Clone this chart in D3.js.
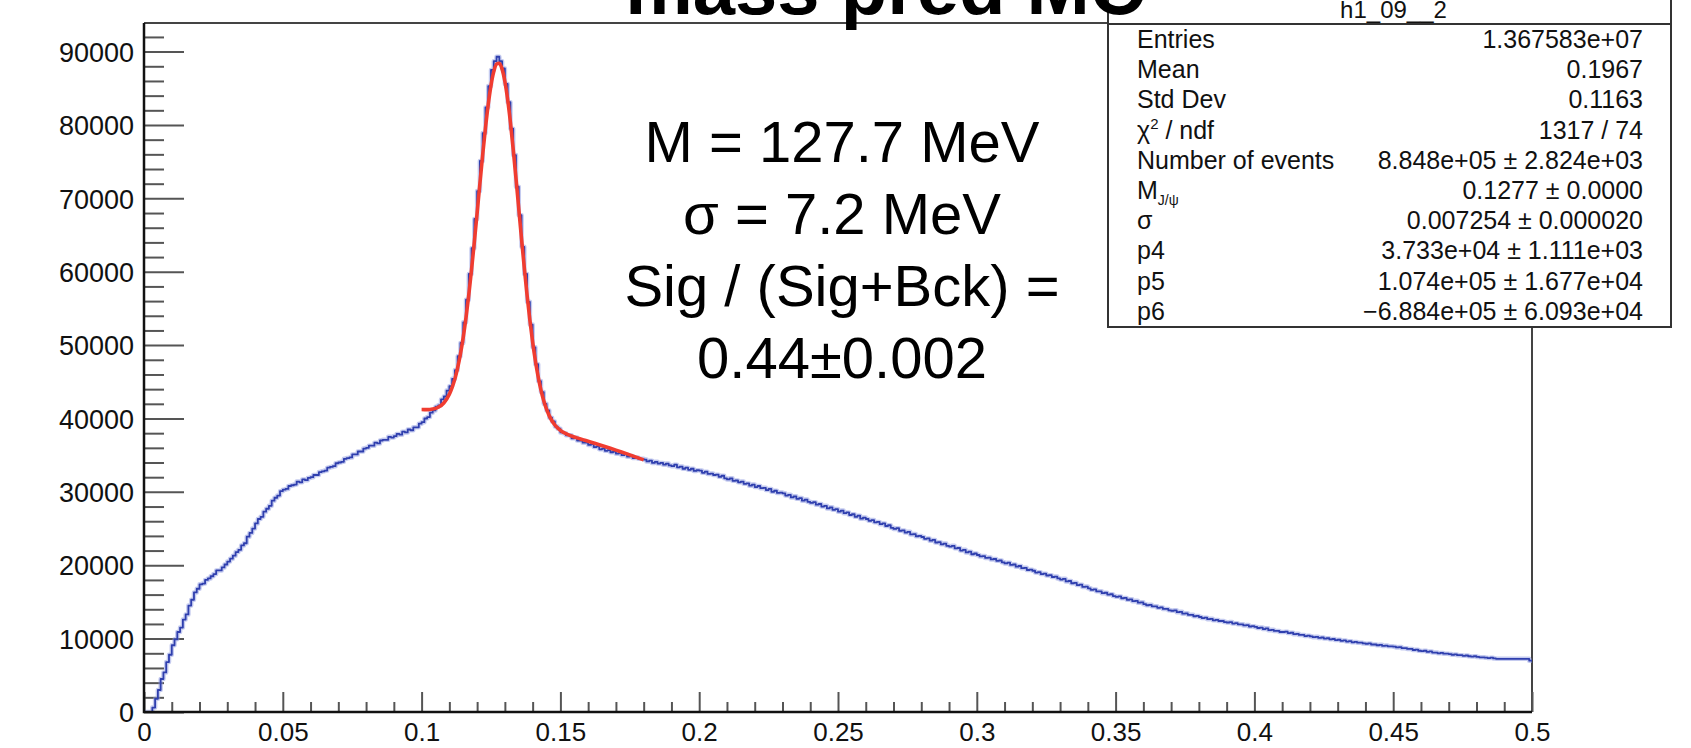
<!DOCTYPE html>
<html>
<head>
<meta charset="utf-8">
<script src="https://cdn.jsdelivr.net/npm/d3@7"></script>
<style>
  html, body { margin: 0; padding: 0; background: #ffffff; }
  svg { display: block; font-family: "Liberation Sans", Arial, Helvetica, sans-serif; }
</style>
</head>
<body>
<svg id="chart" width="1691" height="748"></svg>
<script>
// ---- histogram h1_09__2 : 500 bins of width 0.001 on [0, 0.5] ----
const binWidth = 0.001;
const counts = [
  0, 0, 0, 600, 1800, 3000, 4500, 5400, 6800, 7800,
  9100, 9900, 10900, 11500, 12600, 13300, 14500, 15300, 16300, 16800,
  17400, 17500, 18000, 18200, 18500, 18800, 19300, 19300, 19700, 20100,
  20500, 20900, 21300, 21800, 22100, 22700, 23000, 23900, 24400, 25000,
  25700, 26300, 26600, 27300, 27700, 28100, 28800, 29200, 29500, 30100,
  30300, 30400, 30800, 30900, 31000, 31400, 31300, 31700, 31600, 31900,
  32000, 32300, 32300, 32700, 32800, 32900, 33300, 33400, 33500, 33900,
  34000, 34100, 34500, 34600, 34700, 35100, 35100, 35500, 35500, 35900,
  36000, 36300, 36300, 36700, 36600, 37000, 37100, 37100, 37500, 37400,
  37600, 37900, 37800, 38200, 38100, 38500, 38400, 38800, 38800, 39300,
  39500, 40000, 40200, 40800, 41100, 41600, 41800, 42600, 43000, 43800,
  44400, 45400, 46600, 48500, 50300, 53100, 56200, 59700, 63200, 67200,
  71000, 75100, 78900, 82400, 85300, 87500, 88700, 89300, 88700, 87700,
  85600, 83100, 79500, 75900, 71600, 67700, 63400, 59700, 55900, 52800,
  49700, 47400, 45100, 43600, 42000, 41100, 40100, 39600, 38900, 38600,
  38100, 38000, 37700, 37700, 37300, 37400, 37000, 37000, 36700, 36700,
  36400, 36500, 36100, 36200, 35800, 35900, 35600, 35700, 35400, 35500,
  35200, 35300, 35000, 35100, 34800, 34900, 34600, 34700, 34500, 34500,
  34400, 34150, 34250, 33950, 34100, 33850, 33950, 33700, 33850, 33600,
  33500, 33700, 33350, 33450, 33150, 33300, 33000, 33150, 32850, 32950,
  32900, 32600, 32750, 32450, 32500, 32300, 32350, 32050, 32200, 31850,
  31700, 31850, 31500, 31550, 31300, 31400, 31100, 31150, 30850, 31000,
  30650, 30800, 30500, 30550, 30250, 30400, 30000, 30150, 29850, 29900,
  29800, 29500, 29600, 29250, 29400, 29050, 29150, 28800, 28950, 28650,
  28500, 28600, 28250, 28350, 28000, 28100, 27750, 27900, 27550, 27650,
  27300, 27450, 27100, 27200, 26850, 26950, 26600, 26750, 26350, 26500,
  26300, 26050, 26150, 25850, 25900, 25600, 25700, 25350, 25450, 25100,
  24950, 25050, 24700, 24750, 24450, 24550, 24200, 24250, 23950, 24000,
  23850, 23600, 23650, 23350, 23450, 23100, 23150, 22850, 22950, 22650,
  22550, 22650, 22300, 22350, 22000, 22100, 21750, 21850, 21500, 21600,
  21400, 21200, 21250, 21000, 21050, 20800, 20850, 20600, 20650, 20400,
  20250, 20350, 20050, 20100, 19800, 19900, 19600, 19650, 19350, 19400,
  19250, 19000, 19050, 18800, 18850, 18600, 18650, 18400, 18450, 18200,
  18050, 18150, 17800, 17850, 17550, 17600, 17300, 17350, 17050, 17100,
  16850, 16650, 16700, 16450, 16450, 16200, 16250, 16000, 16050, 15800,
  15700, 15750, 15500, 15550, 15300, 15350, 15100, 15150, 14900, 14950,
  14700, 14550, 14600, 14400, 14400, 14200, 14250, 14050, 14050, 13850,
  13800, 13850, 13600, 13650, 13400, 13450, 13250, 13250, 13050, 13100,
  12950, 12800, 12850, 12650, 12700, 12500, 12550, 12400, 12400, 12250,
  12200, 12250, 12050, 12100, 11950, 11950, 11800, 11850, 11650, 11700,
  11600, 11450, 11500, 11300, 11400, 11150, 11200, 11050, 11050, 10900,
  10900, 10950, 10750, 10800, 10600, 10650, 10500, 10500, 10350, 10400,
  10300, 10200, 10250, 10100, 10150, 10000, 10050, 9900, 9950, 9800,
  9850, 9700, 9750, 9600, 9650, 9500, 9550, 9450, 9450, 9350,
  9300, 9350, 9200, 9200, 9100, 9150, 9000, 9050, 8950, 8950,
  8900, 8800, 8850, 8700, 8700, 8600, 8600, 8450, 8500, 8350,
  8300, 8350, 8200, 8250, 8100, 8100, 8000, 8050, 7950, 7950,
  7900, 7800, 7850, 7750, 7750, 7650, 7700, 7600, 7550, 7600,
  7500, 7450, 7450, 7400, 7350, 7400, 7300, 7250, 7250, 7250,
  7250, 7250, 7250, 7250, 7250, 7250, 7250, 7250, 7250, 7000
];

// ---- fitted curve (signal + background), sampled over the fit range ----
const fitX = [
  0.100, 0.102, 0.104, 0.106, 0.108, 0.110, 0.111, 0.112, 0.113, 0.114,
  0.115, 0.116, 0.117, 0.118, 0.119, 0.120, 0.121, 0.122, 0.123, 0.124,
  0.125, 0.126, 0.127, 0.128, 0.129, 0.130, 0.131, 0.132, 0.133, 0.134,
  0.135, 0.136, 0.137, 0.138, 0.139, 0.140, 0.141, 0.142, 0.143, 0.144,
  0.145, 0.146, 0.148, 0.150, 0.152, 0.154, 0.156, 0.158, 0.160, 0.162,
  0.164, 0.166, 0.168, 0.170, 0.172, 0.174, 0.176, 0.178, 0.180
];
const fitY = [
  41219, 41214, 41288, 41534, 42118, 43293, 44230, 45401, 46921, 48805,
  51086, 53778, 56867, 60320, 64066, 68007, 72010, 75923, 79573, 82789,
  85403, 87276, 88302, 88419, 87615, 85933, 83463, 80333, 76699, 72735,
  68611, 64492, 60516, 56798, 53421, 50431, 47848, 45671, 43874, 42418,
  41261, 40356, 39117, 38383, 37928, 37612, 37356, 37122, 36893, 36662,
  36428, 36189, 35944, 35693, 35437, 35176, 34909, 34636, 34358
];

// ---- axes ----
const xDomain = [0, 0.5];
const yDomain = [0, 93900];
const xMajorTicks = [0, 0.05, 0.1, 0.15, 0.2, 0.25, 0.3, 0.35, 0.4, 0.45, 0.5];
const xTickLabels = ["0", "0.05", "0.1", "0.15", "0.2", "0.25", "0.3", "0.35", "0.4", "0.45", "0.5"];
const xMinorStep = 0.01;
const yMajorTicks = [0, 10000, 20000, 30000, 40000, 50000, 60000, 70000, 80000, 90000];
const yTickLabels = ["0", "10000", "20000", "30000", "40000", "50000", "60000", "70000", "80000", "90000"];
const yMinorStep = 2000;

// ---- statistics box ----
const statsTitle = "h1_09__2";
const statsNames = ["Entries", "Mean", "Std Dev", "chi2", "Number of events", "MJpsi", "σ", "p4", "p5", "p6"];
const statsValues = [
  "1.367583e+07", "0.1967", "0.1163", "1317 / 74",
  "8.848e+05 ± 2.824e+03", "0.1277 ± 0.0000", "0.007254 ± 0.000020",
  "3.733e+04 ± 1.111e+03", "1.074e+05 ± 1.677e+04", "\u22126.884e+05 ± 6.093e+04"
];

const titleText = "mass pred MC";
const annotationLines = ["M = 127.7 MeV", "σ = 7.2 MeV", "Sig / (Sig+Bck) =", "0.44±0.002"];

// ---- layout ----
const frame = { left: 144, right: 1532, top: 23, bottom: 712 };
const svg = d3.select("#chart");

const x = d3.scaleLinear().domain(xDomain).range([frame.left, frame.right]);
const y = d3.scaleLinear().domain(yDomain).range([frame.bottom, frame.top]);

svg.append("rect").attr("width", 1691).attr("height", 748).attr("fill", "#ffffff");

svg.append("defs").append("clipPath").attr("id", "plotClip")
  .append("rect")
  .attr("x", frame.left).attr("y", frame.top)
  .attr("width", frame.right - frame.left).attr("height", frame.bottom - frame.top);

// frame (top and right sides)
svg.append("path")
  .attr("d", `M${frame.left},${frame.top}H${frame.right}V${frame.bottom}`)
  .attr("fill", "none").attr("stroke", "#444").attr("stroke-width", 2);

// minor ticks
const xMinor = d3.range(0, 0.5 + 1e-9, xMinorStep).filter(v => !xMajorTicks.some(m => Math.abs(m - v) < 1e-9));
const yMinor = d3.range(0, yDomain[1], yMinorStep).filter(v => v % 10000 !== 0);

const xMinorAxis = d3.axisBottom(x).tickValues(xMinor).tickSize(-10).tickFormat("");
const yMinorAxis = d3.axisLeft(y).tickValues(yMinor).tickSize(-20).tickFormat("");

const gxm = svg.append("g").attr("transform", `translate(0,${frame.bottom})`).call(xMinorAxis);
const gym = svg.append("g").attr("transform", `translate(${frame.left},0)`).call(yMinorAxis);

// major ticks with labels
const xAxis = d3.axisBottom(x).tickValues(xMajorTicks).tickSize(-20).tickPadding(10)
  .tickFormat((d, i) => xTickLabels[i]);
const yAxis = d3.axisLeft(y).tickValues(yMajorTicks).tickSize(-40).tickPadding(10)
  .tickFormat((d, i) => yTickLabels[i]);

const gx = svg.append("g").attr("transform", `translate(0,${frame.bottom})`).call(xAxis);
const gy = svg.append("g").attr("transform", `translate(${frame.left},0)`).call(yAxis);

[gxm, gym, gx, gy].forEach(g => {
  g.select(".domain").remove();
  g.selectAll(".tick line").attr("stroke", "#555").attr("stroke-width", 2);
});
gx.selectAll(".tick text")
  .attr("font-size", 26).attr("fill", "#111")
  .attr("dy", null).attr("y", 29);
gy.selectAll(".tick text")
  .attr("font-size", 27).attr("fill", "#111")
  .attr("dy", "0.36em");

// histogram as a step line
const histPoints = counts.map((c, i) => [i * binWidth, c]);
histPoints.push([counts.length * binWidth, counts[counts.length - 1]]);
const stepLine = d3.line()
  .x(d => x(d[0]))
  .y(d => y(d[1]))
  .curve(d3.curveStepAfter);

const plot = svg.append("g").attr("clip-path", "url(#plotClip)");
plot.append("path")
  .attr("d", stepLine(histPoints))
  .attr("fill", "none").attr("stroke", "#8c98e0").attr("stroke-opacity", 0.5)
  .attr("stroke-width", 4.5).attr("stroke-linejoin", "round");
plot.append("path")
  .attr("d", stepLine(histPoints))
  .attr("fill", "none").attr("stroke", "#2f3fae")
  .attr("stroke-width", 1.8).attr("stroke-linejoin", "round");

// fitted function
const fitLine = d3.line()
  .x((d, i) => x(fitX[i]))
  .y(d => y(d))
  .curve(d3.curveMonotoneX);
plot.append("path")
  .attr("d", fitLine(fitY))
  .attr("fill", "none").attr("stroke", "#f03c30")
  .attr("stroke-width", 3.6).attr("stroke-linejoin", "round");

// axis lines
svg.append("path")
  .attr("d", `M${frame.left},${frame.top}V${frame.bottom}H${frame.right}`)
  .attr("fill", "none").attr("stroke", "#111").attr("stroke-width", 2.5);

// annotation text
const ann = svg.append("g").attr("font-size", 58).attr("fill", "#000").attr("text-anchor", "middle");
const annBaselines = [162, 234, 306, 378];
annotationLines.forEach((t, i) => {
  ann.append("text").attr("x", 842).attr("y", annBaselines[i]).text(t);
});

// statistics box
const box = { left: 1108, right: 1671, top: -10, bottom: 327, header: 24 };
const sg = svg.append("g");
sg.append("rect")
  .attr("x", box.left).attr("y", box.top)
  .attr("width", box.right - box.left).attr("height", box.bottom - box.top)
  .attr("fill", "#ffffff").attr("stroke", "#333").attr("stroke-width", 2);
sg.append("line")
  .attr("x1", box.left).attr("x2", box.right).attr("y1", box.header).attr("y2", box.header)
  .attr("stroke", "#333").attr("stroke-width", 2);
sg.append("text")
  .attr("x", (box.left + box.right) / 2 + 4).attr("y", 18)
  .attr("text-anchor", "middle").attr("font-size", 24).attr("fill", "#111")
  .text(statsTitle);

const rowBase = 48, rowStep = 30.2;
statsNames.forEach((name, i) => {
  const ty = rowBase + i * rowStep;
  const t = sg.append("text").attr("x", 1137).attr("y", ty).attr("font-size", 25).attr("fill", "#111");
  if (name === "chi2") {
    t.append("tspan").text("χ");
    t.append("tspan").attr("font-size", 15).attr("dy", -10).text("2");
    t.append("tspan").attr("dy", 10).text(" / ndf");
  } else if (name === "MJpsi") {
    t.append("tspan").text("M");
    t.append("tspan").attr("font-size", 14).attr("dy", 6).text("J/ψ");
  } else {
    t.text(name);
  }
  sg.append("text").attr("x", 1643).attr("y", ty)
    .attr("text-anchor", "end").attr("font-size", 25).attr("fill", "#111")
    .text(statsValues[i]);
});

// title
svg.append("text")
  .attr("x", 885).attr("y", 14)
  .attr("text-anchor", "middle").attr("font-size", 76).attr("font-weight", "bold").attr("fill", "#000")
  .text(titleText);
</script>
</body>
</html>
